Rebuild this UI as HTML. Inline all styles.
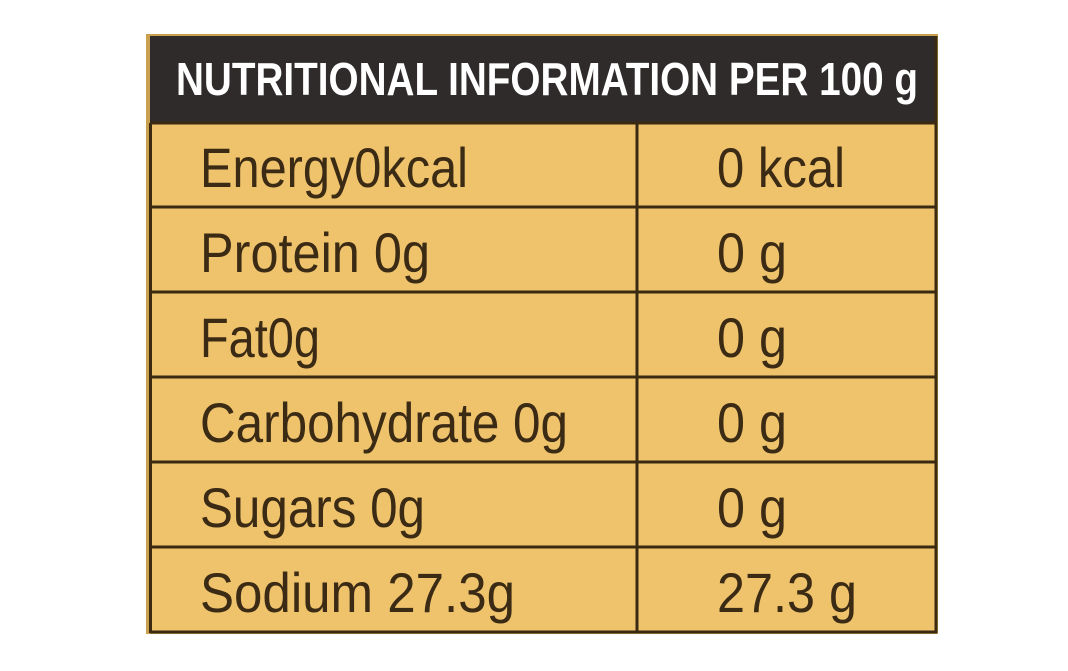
<!DOCTYPE html>
<html><head><style>html,body{margin:0;padding:0;background:#fff;width:1068px;height:671px;overflow:hidden}</style></head>
<body>
<svg width="1068" height="671" xmlns="http://www.w3.org/2000/svg" style="position:absolute;left:0;top:0">
<rect x="146" y="34" width="792" height="600" fill="#c9a050"/>
<rect x="150" y="36" width="786" height="87" fill="#2e2b2a"/>
<rect x="150" y="123" width="786" height="509" fill="#eec36c"/>
<g stroke="#3a2a12" stroke-width="3">
<line x1="150" y1="123" x2="937" y2="123"/>
<line x1="150" y1="207" x2="937" y2="207"/>
<line x1="150" y1="292" x2="937" y2="292"/>
<line x1="150" y1="377" x2="937" y2="377"/>
<line x1="150" y1="462" x2="937" y2="462"/>
<line x1="150" y1="547" x2="937" y2="547"/>
<line x1="150" y1="632" x2="937" y2="632"/>
<line x1="637" y1="123" x2="637" y2="632"/>
<line x1="936" y1="36" x2="936" y2="633"/>
<line x1="150.5" y1="123" x2="150.5" y2="633"/>
</g>
<text x="176" y="95" font-family="Liberation Sans, sans-serif" font-weight="bold" font-size="46" fill="#fff" textLength="742" lengthAdjust="spacingAndGlyphs">NUTRITIONAL INFORMATION PER 100 g</text>
<g font-family="Liberation Sans, sans-serif" font-size="56" fill="#3b2a14" lengthAdjust="spacingAndGlyphs">
<text x="200" y="187" textLength="268" lengthAdjust="spacingAndGlyphs">Energy0kcal</text>
<text x="200" y="272" textLength="230" lengthAdjust="spacingAndGlyphs">Protein 0g</text>
<text x="200" y="357" textLength="120" lengthAdjust="spacingAndGlyphs">Fat0g</text>
<text x="200" y="442" textLength="368" lengthAdjust="spacingAndGlyphs">Carbohydrate 0g</text>
<text x="200" y="527" textLength="225" lengthAdjust="spacingAndGlyphs">Sugars 0g</text>
<text x="200" y="612" textLength="315" lengthAdjust="spacingAndGlyphs">Sodium 27.3g</text>
<text x="717" y="187" textLength="128" lengthAdjust="spacingAndGlyphs">0 kcal</text>
<text x="717" y="272" textLength="70" lengthAdjust="spacingAndGlyphs">0 g</text>
<text x="717" y="357" textLength="70" lengthAdjust="spacingAndGlyphs">0 g</text>
<text x="717" y="442" textLength="70" lengthAdjust="spacingAndGlyphs">0 g</text>
<text x="717" y="527" textLength="70" lengthAdjust="spacingAndGlyphs">0 g</text>
<text x="717" y="612" textLength="140" lengthAdjust="spacingAndGlyphs">27.3 g</text>
</g>
</svg>
</body></html>
